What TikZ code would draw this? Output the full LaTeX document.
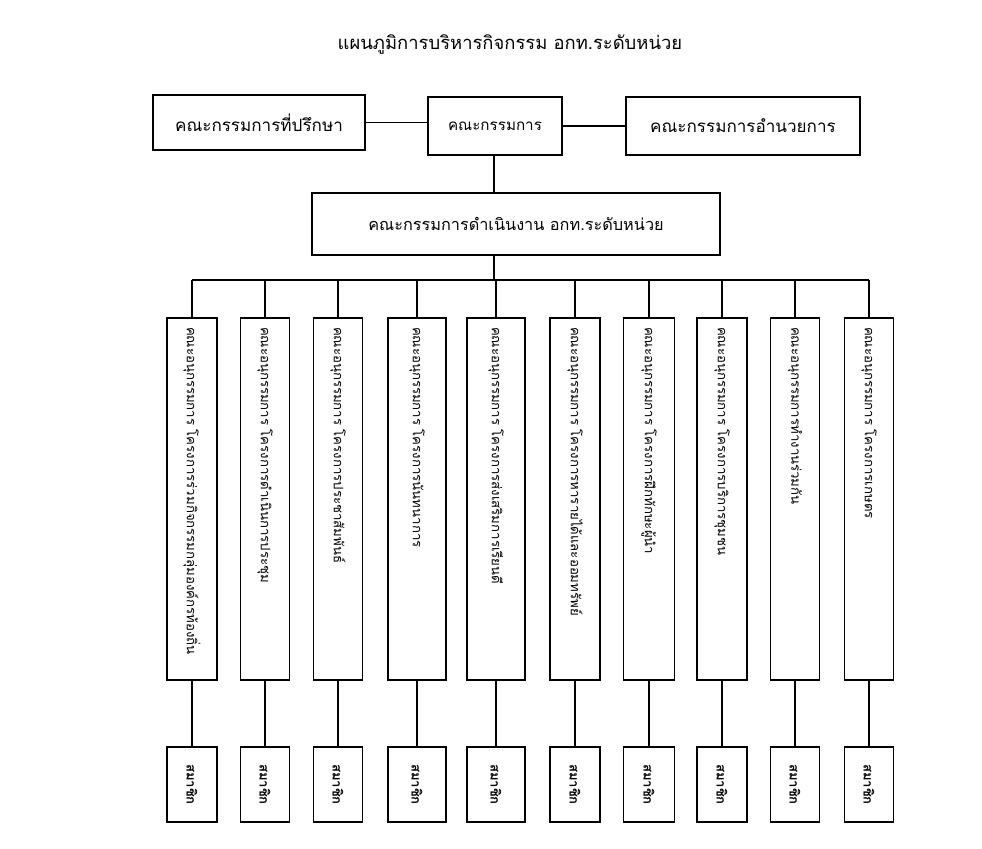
\documentclass[tikz,border=0pt]{standalone}
\usepackage{fontspec}
\newfontfamily\thai[Script=Thai]{Loma}
\begin{document}
\begin{tikzpicture}[x=0.75pt,y=-0.75pt,
  line width=1pt,
  bx/.style 2 args={draw, rectangle, inner sep=0pt, minimum width={#1*0.75pt}, minimum height={#2*0.75pt}},
  toptext/.style={font=\thai\fontsize{12.8}{15}\selectfont},
  tall/.style={draw, rectangle, rotate=-90, minimum width={362*0.75pt}, minimum height={#1*0.75pt},
     inner xsep={9*0.75pt}, inner ysep=0pt, text width={344*0.75pt}, align=left,
     font=\thai\fontsize{9.9}{11}\selectfont},
  small/.style={draw, rectangle, rotate=-90, minimum width={75*0.75pt}, minimum height={#1*0.75pt},
     inner sep=0pt, font=\thai\bfseries\fontsize{9.8}{11}\selectfont},
  conn/.style={draw, line width=1pt}
]
\useasboundingbox (0,0) rectangle (982,849);
\fill[white] (0,0) rectangle (982,849);

\node[font=\thai\fontsize{13.8}{16}\selectfont] (title) at (510,45) {แผนภูมิการบริหารกิจกรรม อกท.ระดับหน่วย};

\node[bx={212}{55}, toptext] (adv) at (259,122.5) {คณะกรรมการที่ปรึกษา};
\node[bx={134}{58}, toptext, font=\thai\fontsize{11.4}{14}\selectfont] (com) at (495,126) {คณะกรรมการ};
\node[bx={234}{58}, toptext] (dir) at (743,126) {คณะกรรมการอำนวยการ};
\node[bx={408}{62}, toptext, font=\thai\fontsize{12.2}{15}\selectfont] (op) at (516,224) {คณะกรรมการดำเนินงาน อกท.ระดับหน่วย};

\draw[conn] (adv.east) -- (adv.east -| com.west);
\draw[conn] (com.east) -- (dir.west);
\coordinate (j) at (494,280);
\draw[conn] (j |- com.south) -- (j |- op.north);
\draw[conn] (j |- op.south) -- (j);

% columns: index / center x / width / text
\foreach \i/\cx/\w/\t in {
  1/192/50/{คณะอนุกรรมการ โครงการร่วมกิจกรรมกลุ่มองค์กรท้องถิ่น},
  2/265/49/{คณะอนุกรรมการ โครงการดำเนินการประชุม},
  3/338/49/{คณะอนุกรรมการ โครงการประชาสัมพันธ์},
  4/417/58/{คณะอนุกรรมการ โครงการนันทนาการ},
  5/496/58/{คณะอนุกรรมการ โครงการส่งเสริมการเรียนดี},
  6/575/50/{คณะอนุกรรมการ โครงการหารายได้และออมทรัพย์},
  7/649/51/{คณะอนุกรรมการ โครงการฝึกทักษะผู้นำ},
  8/722/50/{คณะอนุกรรมการ โครงการบริการชุมชน},
  9/795/49/{คณะอนุกรรมการทำงานร่วมกัน},
  10/869/49/{คณะอนุกรรมการ โครงการเกษตร}} {
  \coordinate (b\i) at (\cx,280);
  \node[tall=\w] (t\i) at (\cx,499) {\t};
  \node[small=\w] (s\i) at (\cx,784.5) {สมาชิก};
  \draw[conn] (b\i) -- (t\i.west);
  \draw[conn] (t\i.east) -- (s\i.west);
}
\draw[conn] (b1) -- (b10);
\end{tikzpicture}
\end{document}
